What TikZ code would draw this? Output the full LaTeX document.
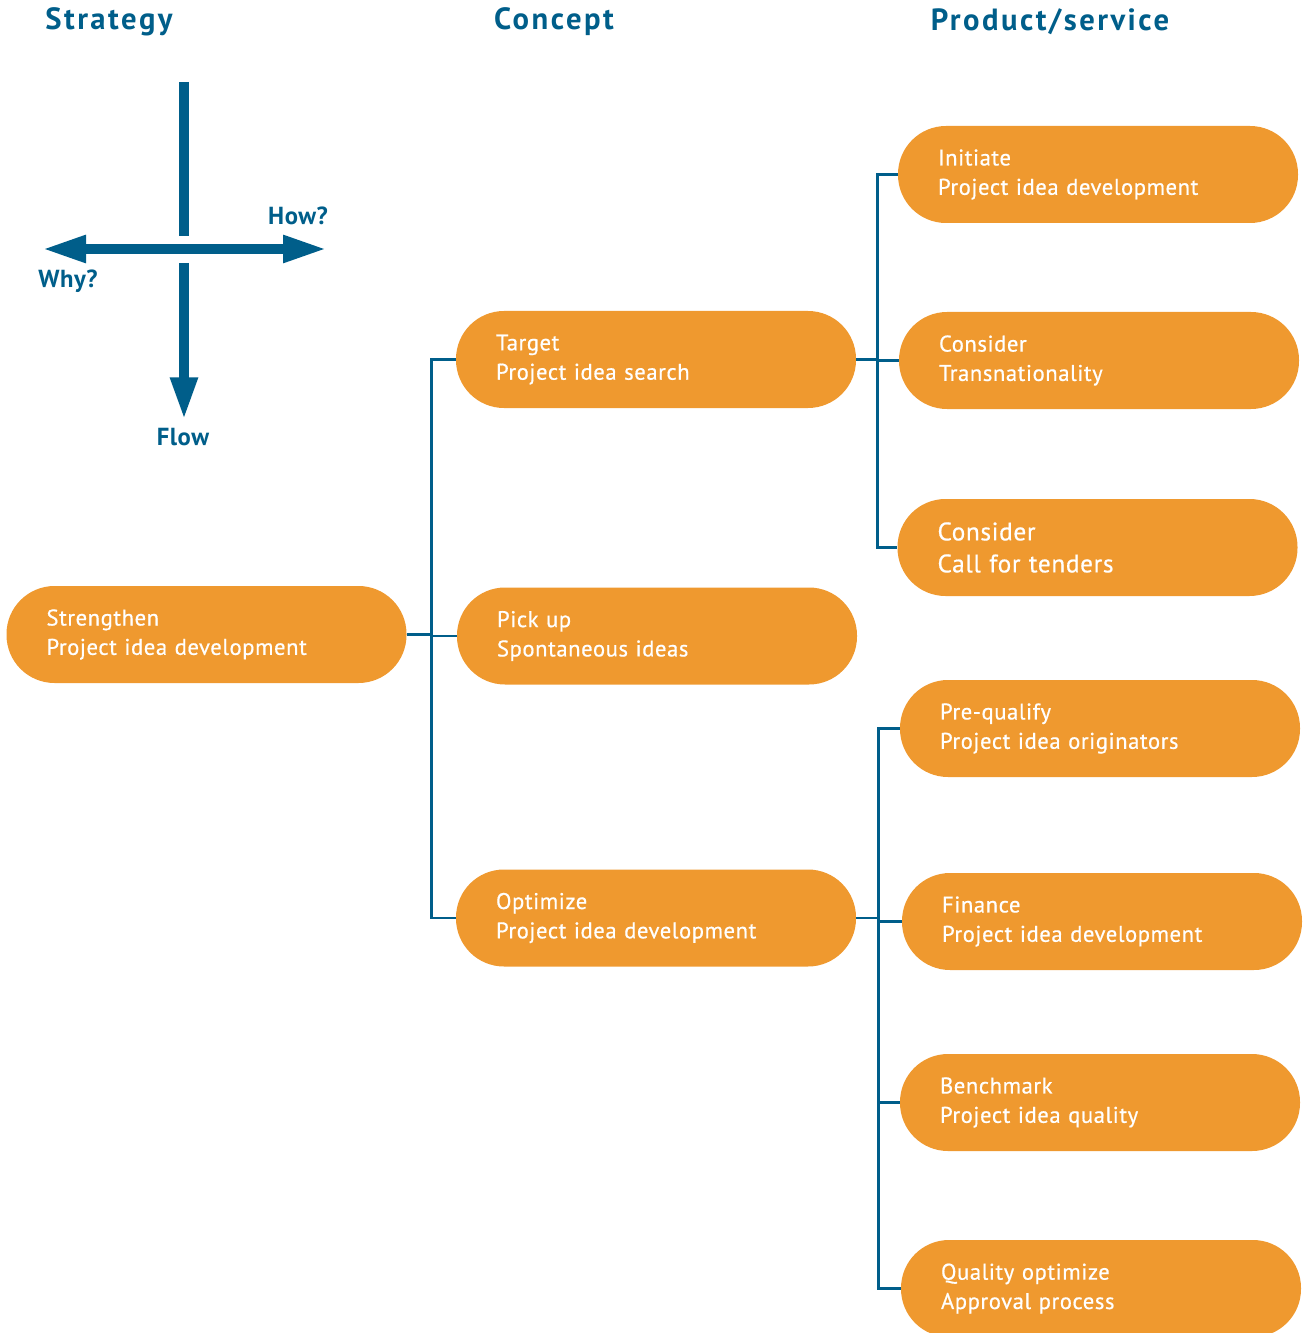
\documentclass[tikz,border=0pt]{standalone}
\usepackage{fontspec}
\setmainfont{PT Sans}
\newfontfamily\boxfont[LetterSpace=2.5, FakeBold=0.6]{PT Sans}
\newfontfamily\headfont[LetterSpace=8]{PT Sans Bold}
\newfontfamily\labelfont[LetterSpace=2]{PT Sans Bold}
\usetikzlibrary{arrows.meta}
\definecolor{boxorange}{RGB}{239,153,47}
\definecolor{darkblue}{RGB}{0,94,138}
\tikzset{
  pill/.style={draw=none, fill=boxorange, rounded corners=36pt,
    minimum width=300pt, minimum height=72.75pt, text width=240pt,
    inner xsep=29pt, align=left, text=white,
    font=\boxfont\fontsize{17}{22}\selectfont},
  bigpill/.style={pill, font=\boxfont\fontsize{19}{24}\selectfont},
  link/.style={draw=darkblue, line width=2pt},
  header/.style={text=darkblue, font=\headfont\fontsize{23}{27}\selectfont},
  axislabel/.style={text=darkblue, font=\labelfont\fontsize{18.5}{22}\selectfont},
  axis/.style={draw=darkblue, line width=7.5pt},
}
\begin{document}
\begin{tikzpicture}[x=0.75pt, y=-0.75pt]
\useasboundingbox (0,0) rectangle (1305,1333);

% column headings
\node[header] (hstrat) at (109,22) {Strategy};
\node[header] (hconc) at (554,22) {Concept};
\node[header] (hprod) at (1050,22) {Product/service};

% orientation cross
\coordinate (vtop) at (184,82);
\coordinate (vgap1) at (184,236);
\coordinate (vgap2) at (184,263);
\coordinate (vbot) at (184,420);
\coordinate (hleft) at (42,249);
\coordinate (hright) at (327,249);
\draw[axis] (vtop) -- (vgap1);
\draw[axis, -{Triangle[length=32pt, width=19pt]}] (vgap2) -- (vbot);
\draw[axis, {Triangle[length=33pt, width=19pt]}-{Triangle[length=33pt, width=19pt]}] (hleft) -- (hright);
\node[axislabel] (how) at (298,216) {How?};
\node[axislabel] (why) at (68,281) {Why?};
\node[axislabel] (flow) at (183,437) {Flow};

% strategy level
\node[pill] (strengthen) at (206.5,634.5) {Strengthen\\Project idea development};

% concept level
\node[pill] (target) at (656,359.5) {Target\\Project idea search};
\node[pill] (pickup) at (657,636) {Pick up\\Spontaneous ideas};
\node[pill] (optimize) at (656,918) {Optimize\\Project idea development};

% product/service level
\node[pill] (initiate) at (1098,174.5) {Initiate\\Project idea development};
\node[pill] (transnat) at (1099,360.5) {Consider\\Transnationality};
\node[bigpill] (tenders) at (1097.5,547.5) {Consider\\Call for tenders};
\node[pill] (prequal) at (1100,728.5) {Pre-qualify\\Project idea originators};
\node[pill] (finance) at (1102,921.5) {Finance\\Project idea development};
\node[pill] (benchmark) at (1100,1102.5) {Benchmark\\Project idea quality};
\node[pill] (qualopt) at (1101,1288.5) {Quality optimize\\Approval process};

% tree connectors
\foreach \child in {target, pickup, optimize}
  \draw[link] (strengthen.east) -- ++(25,0) |- (\child.west);
\foreach \child in {initiate, transnat, tenders}
  \draw[link] (target.east) -- ++(21,0) |- (\child.west);
\foreach \child in {prequal, finance, benchmark, qualopt}
  \draw[link] (optimize.east) -- ++(22,0) |- (\child.west);
\end{tikzpicture}
\end{document}
